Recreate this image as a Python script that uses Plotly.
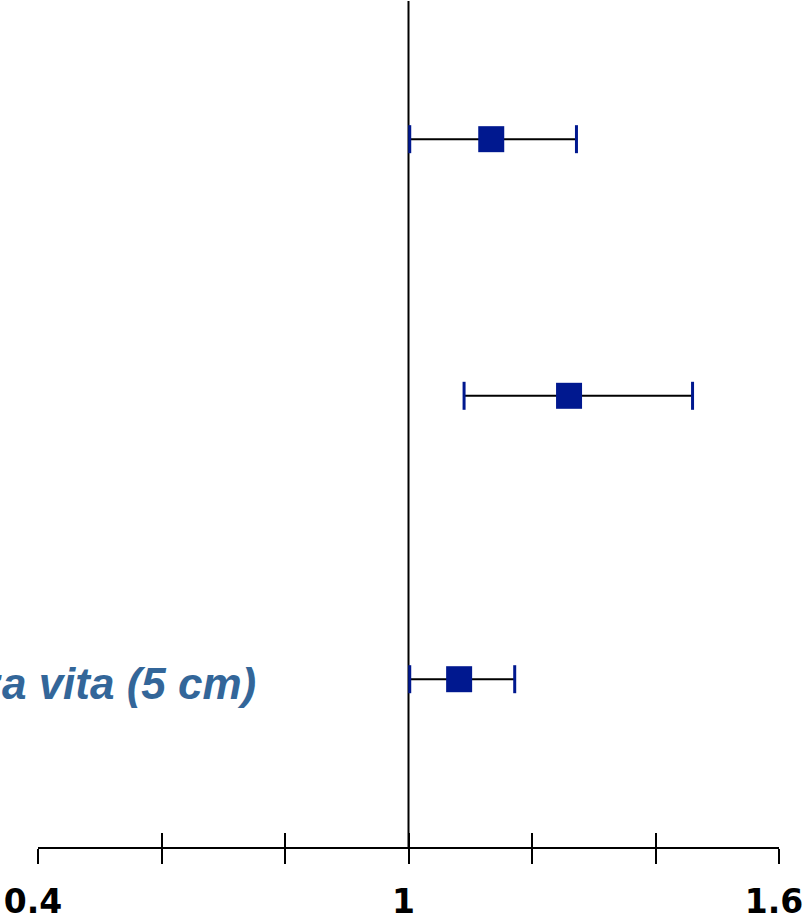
import plotly.graph_objects as go

# Data
labels = ["", "", "Circonferenza vita (5 cm)"]
row_pos = [5.02, 3.2, 1.19]
estimate = [1.134, 1.260, 1.082]
ci_low = [1.002, 1.090, 1.002]
ci_high = [1.272, 1.460, 1.172]
tick_vals = [0.4, 0.6, 0.8, 1.0, 1.2, 1.4, 1.6]
tick_text = ["0.4", "", "", "1", "", "", "1.6"]

MARK = "#00188f"
LABEL = "#336699"

fig = go.Figure()

# CI lines
lx, ly = [], []
for lo, hi, y in zip(ci_low, ci_high, row_pos):
    lx += [lo, hi, None]
    ly += [y, y, None]
fig.add_trace(go.Scatter(x=lx, y=ly, mode="lines",
                         line=dict(color="black", width=2),
                         hoverinfo="skip", showlegend=False))

# caps
fig.add_trace(go.Scatter(x=ci_low + ci_high, y=row_pos + row_pos, mode="markers",
                         marker=dict(symbol="line-ns", size=20,
                                     line=dict(color=MARK, width=3)),
                         hoverinfo="skip", showlegend=False))

# point estimates
fig.add_trace(go.Scatter(x=estimate, y=row_pos, mode="markers",
                         marker=dict(symbol="square", size=26, color=MARK,
                                     line=dict(width=0)),
                         hoverinfo="skip", showlegend=False))

# invisible trace on overlay axis to activate it
fig.add_trace(go.Scatter(x=[tick_vals[0], tick_vals[-1]], y=[row_pos[0], row_pos[0]],
                         mode="markers", marker=dict(opacity=0), xaxis="x2",
                         hoverinfo="skip", showlegend=False))

# row labels
for lab, y in zip(labels, row_pos):
    if lab:
        fig.add_annotation(x=0.756, y=y, xref="x", yref="y", text=lab,
                           showarrow=False, xanchor="right", yanchor="middle",
                           yshift=-4,
                           font=dict(family="Liberation Sans, Arial", size=44,
                                     color=LABEL, weight="bold", style="italic"))

# reference line at 1
fig.add_shape(type="line", xref="x", yref="paper", x0=1, x1=1, y0=0, y1=1,
              line=dict(color="black", width=2), layer="below")

fig.update_layout(
    width=804, height=922,
    margin=dict(l=38, r=25, t=1, b=73),
    plot_bgcolor="white", paper_bgcolor="white",
    hovermode=False,
    xaxis=dict(range=[0.4, 1.6], showgrid=False, zeroline=False,
               showline=True, linecolor="black", linewidth=1.5,
               ticks="outside", ticklen=15, tickwidth=1.5, tickcolor="black",
               tickvals=tick_vals, ticktext=tick_text,
               ticklabelshift=-5, ticklabelstandoff=10,
               tickfont=dict(family="DejaVu Sans", size=33, color="black", weight="bold")),
    xaxis2=dict(range=[0.4, 1.6], overlaying="x", anchor="y", side="bottom",
                showgrid=False, zeroline=False, showline=False,
                ticks="inside", ticklen=14, tickwidth=1.5, tickcolor="black",
                tickvals=tick_vals, showticklabels=False),
    yaxis=dict(range=[0, 6], visible=False),
)

fig.write_html("out.html", config={"displayModeBar": False})
